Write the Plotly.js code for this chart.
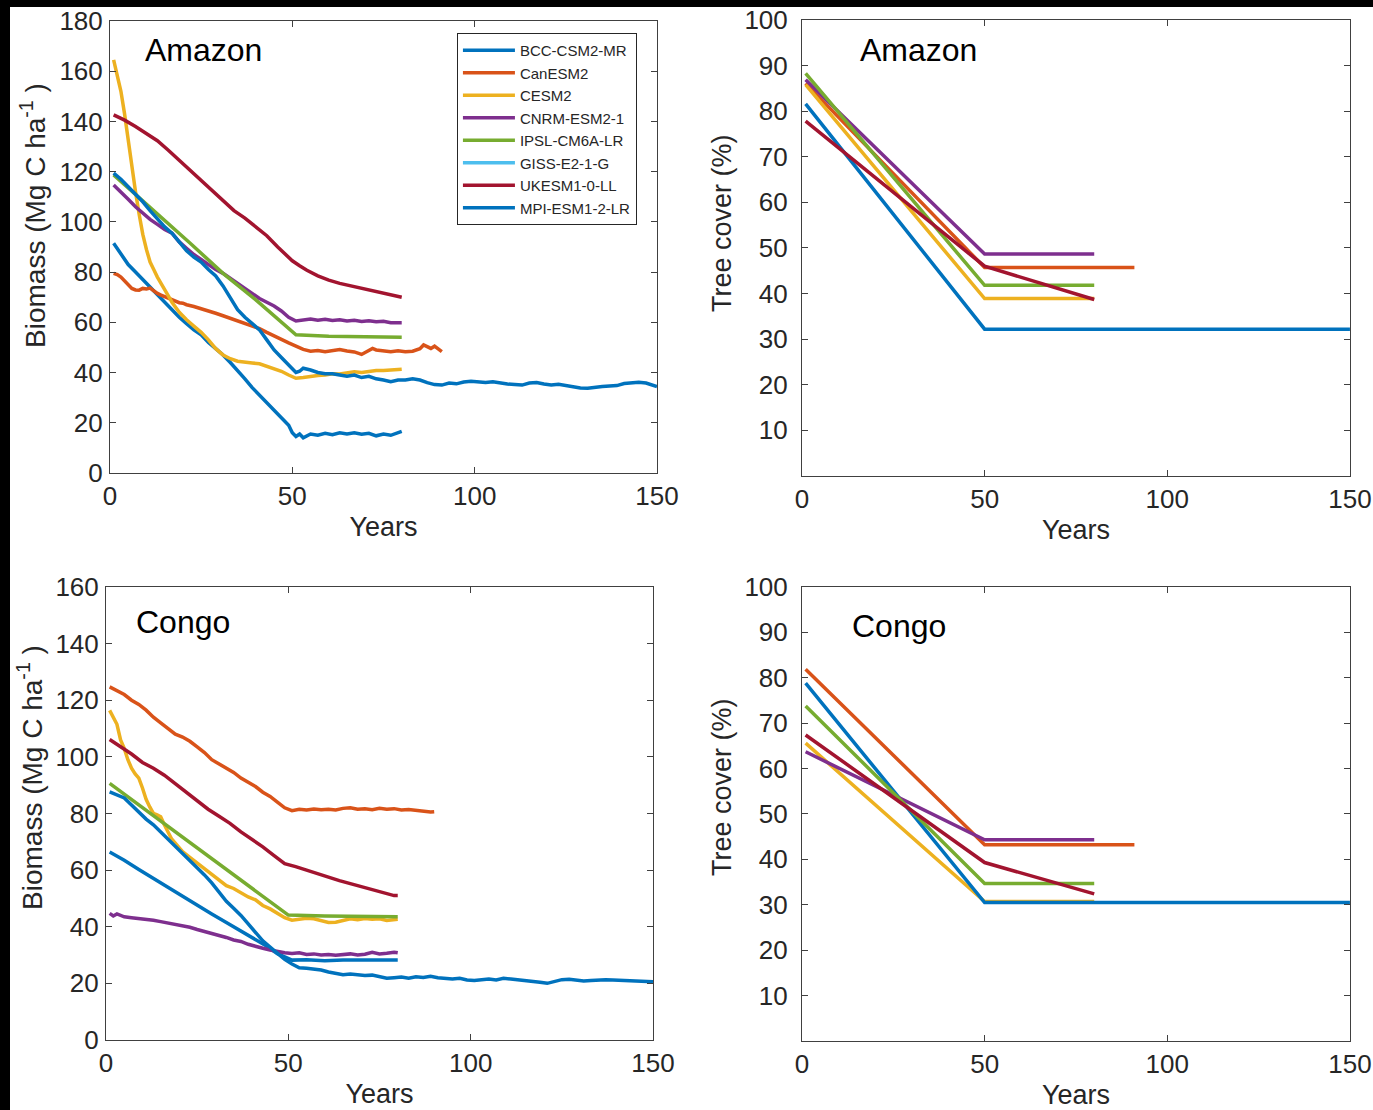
<!DOCTYPE html>
<html><head><meta charset="utf-8">
<script src="https://cdn.plot.ly/plotly-3.0.1.min.js"></script>
<style>html,body{margin:0;padding:0;background:#fff;}#chart{width:1373px;height:1110px;}</style>
</head><body><div id="chart"></div>
<script>
// ---------------- categories ----------------
const modelNames = ['BCC-CSM2-MR','CanESM2','CESM2','CNRM-ESM2-1','IPSL-CM6A-LR','GISS-E2-1-G','UKESM1-0-LL','MPI-ESM1-2-LR'];
const modelColors = ['#0072BD','#D95319','#EDB120','#7E2F8E','#77AC30','#4DBEEE','#A2142F','#0072BD'];
const panelLabels = ['Amazon','Amazon','Congo','Congo'];
const xTickVals = [0,50,100,150];
const bioTicksAmazon = [0,20,40,60,80,100,120,140,160,180];
const bioTicksCongo = [0,20,40,60,80,100,120,140,160];
const coverTicks = [10,20,30,40,50,60,70,80,90,100];
const bioTitle = 'Biomass (Mg C ha<sup>-1</sup> )';
const covTitle = 'Tree cover (%)';
const xTitle = 'Years';

// ---------------- Amazon biomass ----------------
const amzBioYrs_BCC = [1,3,5,7,9,11,13,15,17,19,21,23,25,27,29,31,33,35,37,39,41,43,45,47,49,50,51,52,53,55,57,59,61,63,65,67,69,71,73,75,77,79,80];
const amzBio_BCC    = [91.5,87,83,80,77,74,71,68,65,62,59.5,57,55,52,49.5,47,44,41,37.5,34,31,27.5,25,22,19,16,14.5,15.5,14,15.5,15,15.8,15.2,16,15.5,16,15.4,15.8,14.8,15.5,15,16,16.6];
const amzBioYrs_Can = [1,2,3,4,5,6,7,8,9,10,11,12,13,14,15,17,19,20,21,23,25,27,29,31,33,35,37,39,41,43,45,47,49,51,53,55,57,59,61,63,65,67,69,70,71,72,73,75,77,79,81,83,85,86,87,88,89,90,91];
const amzBio_Can    = [79.5,79,78,76.5,75,73.5,72.9,72.8,73.5,73.3,73.6,72.5,71.5,70.8,70.2,69,67.8,67.6,67,66.3,65.5,64.5,63.6,62.6,61.6,60.5,59.5,58.5,57.5,56,54.5,53.2,51.8,50.5,49.2,48.5,48.8,48.3,48.6,49.2,48.6,48.2,47.2,48,48.8,49.6,49,48.5,48.3,48.7,48.3,48.5,49.5,51,50.2,49.6,50.5,49.3,48.3];
const amzBioYrs_CESM = [1,2,3,4,5,6,7,8,9,10,11,12,13,15,17,19,21,23,25,27,29,31,33,35,37,39,41,43,45,47,49,51,53,55,57,59,61,63,65,67,69,71,73,75,77,79,80];
const amzBio_CESM    = [164.5,158,152,143,132,121,112,103,95,89,84,81,78,73,68,64,61,58.5,56,53,49.5,47,45.5,44.5,44,43.8,43.5,42.5,41.5,40.5,39,37.7,38,38.5,38.8,39,39.5,39.4,39.8,40.3,40,40.5,40.8,40.8,41,41.3,41.3];
const amzBioYrs_CNRM = [1,3,5,7,9,11,13,15,17,19,21,23,25,27,29,31,33,35,37,39,41,43,45,47,49,51,53,55,57,59,61,63,65,67,69,71,73,75,77,79,80];
const amzBio_CNRM    = [114.7,112,109,106,103.5,101,99,97,95.5,92,89.5,87,85,83,81,79.5,77.5,75.5,73.5,71.5,69.5,68,66.5,64.5,62,60.5,61,61.3,60.8,61.2,60.7,61,60.5,60.8,60.3,60.6,60.2,60.4,59.8,60,59.8];
const amzBioYrs_IPSL = [1,13,22,31,40,51,60,70,80];
const amzBio_IPSL    = [118.7,103.4,91.5,79.5,68.9,55,54.4,54.2,54];
const amzBioYrs_UK   = [1,4,7,10,13,16,19,22,25,28,31,34,37,40,43,46,48,50,52,54,57,60,63,66,69,72,75,78,80];
const amzBio_UK      = [142.6,140.5,138,135,132.3,128.5,124.5,120.6,116.5,112.5,108.2,104.5,101.5,98.2,94.5,90,87,84.5,82.5,80.7,78.5,76.8,75.5,74.5,73.7,72.8,71.8,70.7,70];
const amzBioYrs_MPI  = [1,3,5,7,9,11,13,15,17,19,21,23,25,27,29,31,33,35,37,39,41,43,45,47,49,51,52,53,55,57,59,61,63,65,67,69,71,73,75,77,79,81,83,85,87,89,91,93,95,97,99,101,103,105,107,109,111,113,115,117,119,121,123,125,127,129,131,133,135,137,139,141,143,145,147,149,150];
const amzBio_MPI     = [119.4,117,114,111,108,104.5,101,98,95.5,92,88.5,86,84,81,78.5,74.5,70,65,62,59.5,57,53,49,46,43,40,40.5,41.7,41,40,39.5,39.5,39,38.5,39,38,38.5,37.5,37,36.3,37,37,37.5,37,36,35.2,35,35.8,35.5,36.2,36.5,36.4,36,36.3,35.8,35.4,35.2,35,35.8,36,35.4,35,35.3,34.8,34.2,33.8,33.7,34.2,34.4,34.6,34.8,35.6,36,36.1,35.8,35,34.4];

// ---------------- Congo biomass ----------------
const cngBioYrs_BCC = [1,5,9,13,17,21,25,29,33,37,41,44,47,49,51,55,60,65,70,75,80];
const cngBio_BCC    = [66.4,63.5,60.2,57,54,50.8,47.5,44.5,41.5,38.5,35.5,33.2,30.5,29.2,28.2,28.3,28,28.2,28.3,28.1,28.2];
const cngBioYrs_Can = [1,3,5,7,9,11,13,15,17,19,21,23,25,27,29,31,33,35,37,39,41,43,45,47,49,51,53,55,57,59,61,63,65,67,69,71,73,75,77,79,81,83,85,87,89,90];
const cngBio_Can    = [124.7,123.5,122,120,118.5,116.5,114,112,110,108,107,105.5,103.5,101.5,99,97.5,96,94.5,92.5,91,89.5,87.5,86,84,82,81,81.5,81.2,81.6,81.3,81.5,81.2,81.8,82,81.5,81.7,81.3,81.8,81.5,81.7,81.2,81.4,81,80.8,80.5,80.6];
const cngBioYrs_CESM = [1,2,3,4,5,6,7,8,9,10,11,12,13,14,15,16,17,18,19,20,21,23,25,27,29,31,33,35,37,39,41,43,45,47,49,51,53,55,57,59,61,63,65,67,69,71,73,75,77,79,80];
const cngBio_CESM    = [116.4,114,111.5,106,103,99,96,94,92.5,89,85,82.3,80,79.5,78.8,76,73.5,71,69.5,68,66.5,64.5,62.5,60.3,58.5,56.5,54.5,53.5,52,50.5,49.5,47.5,46.3,44.8,43.2,42.3,42.5,43,42.8,42.2,41.5,41.6,42.3,42.8,42.5,42.9,42.6,42.8,42.2,42.3,42.6];
const cngBioYrs_CNRM = [1,2,3,5,7,9,11,13,15,17,19,21,23,25,27,29,31,33,35,37,39,41,43,45,47,49,51,53,55,57,59,61,63,65,67,69,71,73,75,77,79,80];
const cngBio_CNRM    = [44.7,43.8,44.5,43.5,43.2,43,42.7,42.3,41.8,41.3,40.9,40.4,39.8,39,38.3,37.8,37,36.2,35.3,34.8,33.8,33,32.4,31.8,31.2,30.8,30.5,30.8,30.2,30.4,30,30.2,29.9,30.1,30.4,30,30.3,31,30.4,30.6,31,30.8];
const cngBioYrs_IPSL = [1,50,60,70,80];
const cngBio_IPSL    = [90.6,44.1,43.8,43.6,43.5];
const cngBioYrs_UK   = [1,4,7,10,13,16,19,22,25,28,31,34,37,40,43,46,49,52,55,58,61,64,67,70,73,76,79,80];
const cngBio_UK      = [106.1,103.5,101,98,96,93.5,90.5,87.5,84.5,81.5,79,76.5,73.5,71,68.2,65.2,62.3,61.2,59.9,58.7,57.4,56.3,55.2,54.2,52.9,52,51,51];
const cngBioYrs_MPI  = [1,3,5,7,9,11,13,15,17,19,21,23,25,27,29,31,33,35,37,39,41,43,45,47,49,51,53,55,57,59,61,63,65,67,69,71,73,75,77,79,81,83,85,87,89,91,93,95,97,99,101,103,105,107,109,111,113,115,117,119,121,123,125,127,129,131,133,135,137,139,141,143,145,147,149,150];
const cngBio_MPI     = [87.6,86.5,85.5,83,80.3,78,76,73.5,71,68.5,66,63.5,61,58.3,55.5,52,49,46.5,44,41,37.8,35,32.8,30.5,28.5,26.8,25.5,25.3,25,24.7,24,23.5,23,23.3,23,22.8,22.9,22.4,21.8,22,22.2,21.8,22.3,22.1,22.5,22,21.8,21.5,21.8,21.2,21,21.4,21.5,21.2,21.8,21.5,21.3,21,20.8,20.4,20,20.8,21.3,21.4,21,20.8,21,21.2,21.3,21.2,21.1,21,21,20.9,20.6,20.6];

// ---------------- Tree cover (%) ----------------
const amzCovYrs_Can = [1,50,91];  const amzCov_Can = [86.1,45.7,45.7];
const amzCovYrs_CESM = [1,50,80]; const amzCov_CESM = [85.8,38.9,38.9];
const amzCovYrs_CNRM = [1,50,80]; const amzCov_CNRM = [86.9,48.7,48.7];
const amzCovYrs_IPSL = [1,50,80]; const amzCov_IPSL = [88.3,41.8,41.8];
const amzCovYrs_UK = [1,50,80];   const amzCov_UK = [77.8,46,38.7];
const amzCovYrs_MPI = [1,50,150]; const amzCov_MPI = [81.6,32.2,32.2];

const cngCovYrs_Can = [1,50,91];  const cngCov_Can = [81.9,43.2,43.2];
const cngCovYrs_CESM = [1,50,80]; const cngCov_CESM = [65.6,30.7,30.7];
const cngCovYrs_CNRM = [1,50,80]; const cngCov_CNRM = [63.7,44.3,44.3];
const cngCovYrs_IPSL = [1,50,80]; const cngCov_IPSL = [73.8,34.7,34.7];
const cngCovYrs_UK = [1,50,80];   const cngCov_UK = [67.4,39.3,32.4];
const cngCovYrs_MPI = [1,50,150]; const cngCov_MPI = [78.8,30.5,30.5];

// ---------------- build traces ----------------
const FONT = 'Liberation Sans, Arial, sans-serif';
const TXT = '#262626';
const LW = 3.5;
const data = [];
function add(idx, xs, ys, xa, ya, legend) {
  data.push({
    type: 'scatter', mode: 'lines', x: xs, y: ys, xaxis: xa, yaxis: ya,
    name: modelNames[idx], showlegend: !!legend,
    line: {color: modelColors[idx], width: LW}, hoverinfo: 'skip'
  });
}
// top-left (legend order)
add(0, amzBioYrs_BCC, amzBio_BCC, 'x', 'y', true);
add(1, amzBioYrs_Can, amzBio_Can, 'x', 'y', true);
add(2, amzBioYrs_CESM, amzBio_CESM, 'x', 'y', true);
add(3, amzBioYrs_CNRM, amzBio_CNRM, 'x', 'y', true);
add(4, amzBioYrs_IPSL, amzBio_IPSL, 'x', 'y', true);
add(5, [null], [null], 'x', 'y', true);
add(6, amzBioYrs_UK, amzBio_UK, 'x', 'y', true);
add(7, amzBioYrs_MPI, amzBio_MPI, 'x', 'y', true);
// top-right
add(7, amzCovYrs_MPI, amzCov_MPI, 'x2', 'y2');
add(1, amzCovYrs_Can, amzCov_Can, 'x2', 'y2');
add(2, amzCovYrs_CESM, amzCov_CESM, 'x2', 'y2');
add(3, amzCovYrs_CNRM, amzCov_CNRM, 'x2', 'y2');
add(4, amzCovYrs_IPSL, amzCov_IPSL, 'x2', 'y2');
add(6, amzCovYrs_UK, amzCov_UK, 'x2', 'y2');
// bottom-left
add(0, cngBioYrs_BCC, cngBio_BCC, 'x3', 'y3');
add(1, cngBioYrs_Can, cngBio_Can, 'x3', 'y3');
add(2, cngBioYrs_CESM, cngBio_CESM, 'x3', 'y3');
add(3, cngBioYrs_CNRM, cngBio_CNRM, 'x3', 'y3');
add(4, cngBioYrs_IPSL, cngBio_IPSL, 'x3', 'y3');
add(6, cngBioYrs_UK, cngBio_UK, 'x3', 'y3');
add(7, cngBioYrs_MPI, cngBio_MPI, 'x3', 'y3');
// bottom-right
add(2, cngCovYrs_CESM, cngCov_CESM, 'x4', 'y4');
add(7, cngCovYrs_MPI, cngCov_MPI, 'x4', 'y4');
add(1, cngCovYrs_Can, cngCov_Can, 'x4', 'y4');
add(3, cngCovYrs_CNRM, cngCov_CNRM, 'x4', 'y4');
add(4, cngCovYrs_IPSL, cngCov_IPSL, 'x4', 'y4');
add(6, cngCovYrs_UK, cngCov_UK, 'x4', 'y4');

const TICKSZ = 26, TITLESZ = 27;
function xAxis(domain, anchor) {
  return {
    domain: domain, anchor: anchor, range: [0,150], tickvals: xTickVals,
    ticks: 'inside', ticklen: 6, tickwidth: 1, tickcolor: '#404040',
    showline: true, linecolor: '#404040', linewidth: 1, mirror: 'ticks',
    showgrid: false, zeroline: false, ticklabelstandoff: 0,
    tickfont: {family: FONT, size: TICKSZ, color: TXT},
    title: {text: xTitle, standoff: 6, font: {family: FONT, size: TITLESZ, color: TXT}}
  };
}
function yAxis(domain, anchor, rng, ticks, lblGap) {
  return {
    domain: domain, anchor: anchor, range: rng, tickvals: ticks,
    ticks: 'inside', ticklen: 6, tickwidth: 1, tickcolor: '#404040',
    showline: true, linecolor: '#404040', linewidth: 1, mirror: 'ticks',
    showgrid: false, zeroline: false, ticklabelstandoff: lblGap,
    tickfont: {family: FONT, size: TICKSZ, color: TXT}
  };
}
const annFont = {family: FONT, size: 32, color: '#000'};
const yTitleFont = {family: FONT, size: 28, color: TXT};
function panelLabel(text, x, y) {
  return {text: text, xref: 'paper', yref: 'paper', x: x, y: y, xanchor: 'center', yanchor: 'middle', showarrow: false, font: annFont};
}
function yTitle(text, x, y, size) {
  return {text: text, xref: 'paper', yref: 'paper', x: x, y: y, xanchor: 'center', yanchor: 'middle', textangle: -90, showarrow: false, font: {family: FONT, size: size, color: TXT}};
}

const layout = {
  width: 1373, height: 1110,
  margin: {l: 0, r: 0, t: 0, b: 0},
  paper_bgcolor: '#ffffff', plot_bgcolor: '#ffffff',
  font: {family: FONT, color: TXT},
  xaxis:  xAxis([0.0801, 0.4785], 'y'),
  yaxis:  yAxis([0.5739, 0.9811], 'x', [0,180], bioTicksAmazon, 1),
  xaxis2: xAxis([0.5841, 0.9832], 'y2'),
  yaxis2: yAxis([0.5712, 0.9820], 'x2', [0,100], coverTicks, 8),
  xaxis3: xAxis([0.0772, 0.4756], 'y3'),
  yaxis3: yAxis([0.0631, 0.4712], 'x3', [0,160], bioTicksCongo, 1),
  xaxis4: xAxis([0.5841, 0.9832], 'y4'),
  yaxis4: yAxis([0.0622, 0.4712], 'x4', [0,100], coverTicks, 8),
  legend: {
    x: 0.3328, y: 0.9703, xanchor: 'left', yanchor: 'top',
    bgcolor: '#ffffff', bordercolor: '#262626', borderwidth: 1,
    font: {family: FONT, size: 15, color: TXT}, itemwidth: 52, tracegroupgap: 0
  },
  annotations: [
    panelLabel(panelLabels[0], 0.1479, 0.955),
    panelLabel(panelLabels[1], 0.6693, 0.955),
    panelLabel(panelLabels[2], 0.1333, 0.4396),
    panelLabel(panelLabels[3], 0.6548, 0.436),
    yTitle(bioTitle, 0.0240, 0.8063, 28),
    yTitle(bioTitle, 0.0218, 0.3000, 28),
    yTitle(covTitle, 0.5259, 0.7991, 27),
    yTitle(covTitle, 0.5259, 0.2910, 27)
  ],
  shapes: [
    {type: 'rect', xref: 'paper', yref: 'paper', x0: 0, x1: 1, y0: 1 - 7/1110, y1: 1, fillcolor: '#000', line: {width: 0}, layer: 'above'},
    {type: 'rect', xref: 'paper', yref: 'paper', x0: 0, x1: 10/1373, y0: 0, y1: 1, fillcolor: '#000', line: {width: 0}, layer: 'above'}
  ]
};
Plotly.newPlot('chart', data, layout, {staticPlot: true, displayModeBar: false});
</script>
</body></html>
